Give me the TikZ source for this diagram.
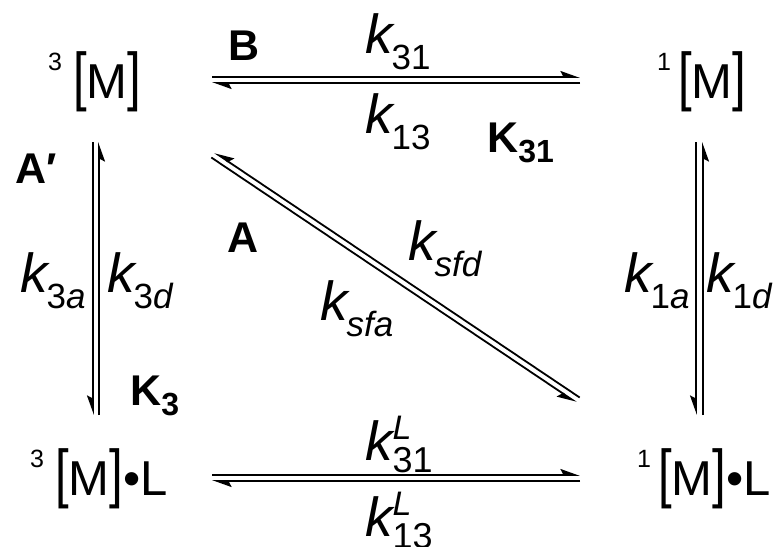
\documentclass[tikz,border=0pt]{standalone}
\usepackage{fontspec}
\usepackage{graphicx}
\setmainfont{Liberation Sans}
\usetikzlibrary{arrows.meta}
\newcommand\spnum[1]{{\fontsize{25}{25}\selectfont\raisebox{28pt}{#1}}}
\newcommand\bkt[1]{\scalebox{1}[1.32]{#1}}
\newcommand\subs[1]{\kern-1pt\raisebox{-16pt}{\fontsize{35}{35}\selectfont #1}}
\newcommand\lsubs[1]{\raisebox{-12pt}{\fontsize{36}{36}\selectfont #1}}
\newcommand\sups[1]{\raisebox{21pt}{\fontsize{34}{34}\selectfont #1}}
\newcommand\bsub[1]{\raisebox{-10pt}{\fontsize{32}{32}\selectfont #1}}
\begin{document}
\begin{tikzpicture}[x=1pt,y=-1pt,
  species/.style={inner sep=0pt,anchor=base west,font=\fontsize{49}{52}\selectfont},
  rate/.style={inner sep=0pt,anchor=base west,font=\fontsize{55}{58}\selectfont\itshape},
  tag/.style={inner sep=0pt,anchor=base west,font=\fontsize{43}{45}\selectfont\bfseries},
  harpA/.style={line width=1.8pt,-{Stealth[harpoon,length=17pt,width=12pt,inset=3pt]}},
  harpB/.style={line width=1.8pt,-{Stealth[harpoon,swap,length=17pt,width=12pt,inset=3pt]}},
]
\fill[white] (0,0) rectangle (773,546);
\useasboundingbox (0,0) rectangle (773,546);

% species
\node[species] (M3) at (48,98) {\spnum{3}\hspace{11pt}\bkt{[}M\bkt{]}};
\node[species] (M1) at (657,98) {\spnum{1}\hspace{7pt}\bkt{[}M\bkt{]}};
\node[species] (M3L) at (30,495) {\spnum{3}\hspace{11pt}\bkt{[}M\bkt{]}•L};
\node[species] (M1L) at (637,495) {\spnum{1}\hspace{7pt}\bkt{[}M\bkt{]}•L};

% rate constants
\node[rate] (k31) at (365,53) {k\subs{\upshape 31}};
\node[rate] (k13) at (365,133) {k\subs{\upshape 13}};
\node[rate] (ksfd) at (408,260) {k\subs{sfd}};
\node[rate] (ksfa) at (320,320) {k\subs{sfa}};
\node[rate] (k3a) at (20,292) {k\subs{\upshape 3\itshape a}};
\node[rate] (k3d) at (107,292) {k\subs{\upshape 3\itshape d}};
\node[rate] (k1a) at (624,292) {k\subs{\upshape 1\itshape a}};
\node[rate] (k1d) at (706,292) {k\subs{\upshape 1\itshape d}};
\node[rate] (kL31) at (365,460) {k\rlap{\sups{L}}\lsubs{\upshape 31}};
\node[rate] (kL13) at (365,536) {k\rlap{\sups{L}}\lsubs{\upshape 13}};

% bold tags
\node[tag] (tB) at (228,60) {B};
\node[tag] (tK31) at (487,152) {K\bsub{31}};
\node[tag] (tAp) at (15,183) {A\char"2032};
\node[tag] (tA) at (227,252) {A};
\node[tag] (tK3) at (130,405) {K\bsub{3}};

% arrow end points
\coordinate (ta1) at (212,77);  \coordinate (ta2) at (580,77);
\coordinate (tb1) at (212,83);  \coordinate (tb2) at (580,83);
\coordinate (ba1) at (212,475); \coordinate (ba2) at (580,475);
\coordinate (bb1) at (212,481); \coordinate (bb2) at (580,481);
\coordinate (la1) at (93,142);  \coordinate (la2) at (93,415);
\coordinate (lb1) at (99,142);  \coordinate (lb2) at (99,415);
\coordinate (ra1) at (696,142); \coordinate (ra2) at (696,415);
\coordinate (rb1) at (703,142); \coordinate (rb2) at (703,415);
\coordinate (da1) at (214.7,152.5); \coordinate (da2) at (579.7,397.5);
\coordinate (db1) at (211.3,157.5); \coordinate (db2) at (576.3,402.5);

% arrows
\draw[harpA] (ta1) -- (ta2);
\draw[harpA] (tb2) -- (tb1);
\draw[harpA] (ba1) -- (ba2);
\draw[harpA] (bb2) -- (bb1);
\draw[harpB] (la1) -- (la2);
\draw[harpB] (lb2) -- (lb1);
\draw[harpB] (ra1) -- (ra2);
\draw[harpB] (rb2) -- (rb1);
\draw[harpB] (da2) -- (da1);
\draw[harpB] (db1) -- (db2);
\end{tikzpicture}
\end{document}
